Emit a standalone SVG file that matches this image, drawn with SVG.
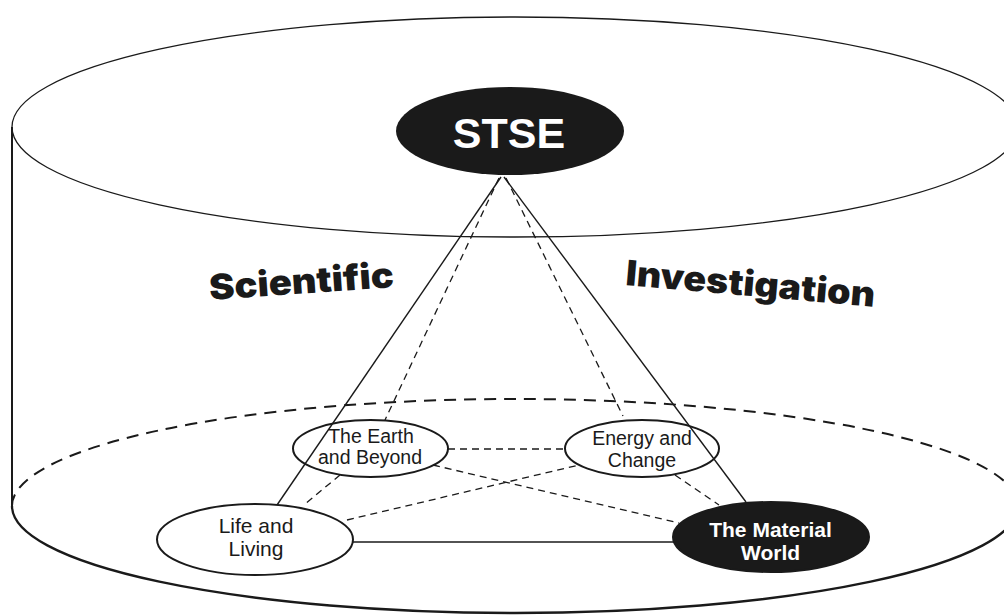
<svg xmlns="http://www.w3.org/2000/svg" width="1004" height="615" viewBox="0 0 1004 615">
<style>
.cyl{fill:none;stroke:#1a1a1a}
.node{stroke:#1a1a1a;stroke-width:2}
.lbl{font-family:"Liberation Sans",Arial,sans-serif;text-anchor:middle;fill:#1a1a1a}
.wlbl{font-family:"Liberation Sans",Arial,sans-serif;font-weight:bold;text-anchor:middle;fill:#ffffff}
.big{font-family:Inter,Lato,"DejaVu Sans",sans-serif;font-weight:900;fill:#1a1a1a;font-size:35px}
.solid{stroke:#1a1a1a;stroke-width:1.4;fill:none}
.dash{stroke:#1a1a1a;stroke-width:1.3;fill:none;stroke-dasharray:7 5}
</style>
<rect width="1004" height="615" fill="#ffffff"/>
<g id="cylinder">
<ellipse class="cyl" cx="515" cy="127" rx="503" ry="110" stroke-width="1.3"/>
<line class="cyl" x1="12" y1="127" x2="12" y2="506" stroke-width="2"/>
<path class="cyl" d="M12,506 A503,107 0 0 0 1018,506" stroke-width="2.3"/>
<path class="cyl" d="M12,506 A503,107 0 0 1 1018,506" stroke-width="2" stroke-dasharray="12 8"/>
</g>
<g id="connectors">
<line class="solid" x1="501" y1="177" x2="277" y2="505"/>
<line class="solid" x1="504" y1="177" x2="746" y2="502"/>
<line class="dash" x1="499" y1="178" x2="385" y2="420"/>
<line class="dash" x1="506" y1="178" x2="623" y2="416"/>
<line class="dash" x1="448" y1="449" x2="565" y2="449"/>
<line class="dash" x1="340" y1="475" x2="305" y2="504"/>
<line class="dash" x1="675" y1="475" x2="719" y2="505"/>
<line class="dash" x1="433" y1="465" x2="679" y2="523"/>
<line class="dash" x1="347" y1="520" x2="579" y2="465"/>
<line class="solid" x1="353" y1="542" x2="674" y2="542" stroke-width="1.6"/>
</g>
<g id="stse">
<ellipse cx="510" cy="131" rx="114" ry="44" fill="#1a1a1a"/>
<text class="wlbl" x="509" y="148" font-size="43">STSE</text>
</g>
<g id="earth">
<ellipse class="node" cx="370.5" cy="448.5" rx="77.5" ry="28.5" fill="none"/>
<text class="lbl" x="371" y="443" font-size="19.5">The Earth</text>
<text class="lbl" x="370" y="464" font-size="19.5">and Beyond</text>
</g>
<g id="energy">
<ellipse class="node" cx="642" cy="448.5" rx="77" ry="28.5" fill="none"/>
<text class="lbl" x="642" y="445" font-size="19.5">Energy and</text>
<text class="lbl" x="642" y="467" font-size="19.5">Change</text>
</g>
<g id="life">
<ellipse class="node" cx="255" cy="539.5" rx="98" ry="35.5" fill="#ffffff"/>
<text class="lbl" x="256" y="533" font-size="21">Life and</text>
<text class="lbl" x="256" y="556" font-size="21">Living</text>
</g>
<g id="material">
<ellipse class="node" cx="771" cy="537" rx="98" ry="35" fill="#1a1a1a"/>
<text class="wlbl" x="770.5" y="537" font-size="21">The Material</text>
<text class="wlbl" x="770.5" y="560" font-size="21">World</text>
</g>
<g id="labels">
<text class="big" x="210" y="300" transform="rotate(-4 210 300)" textLength="185" lengthAdjust="spacingAndGlyphs">Scientific</text>
<text class="big" x="625" y="285" transform="rotate(5 625 285)" textLength="250" lengthAdjust="spacingAndGlyphs">Investigation</text>
</g>
</svg>
